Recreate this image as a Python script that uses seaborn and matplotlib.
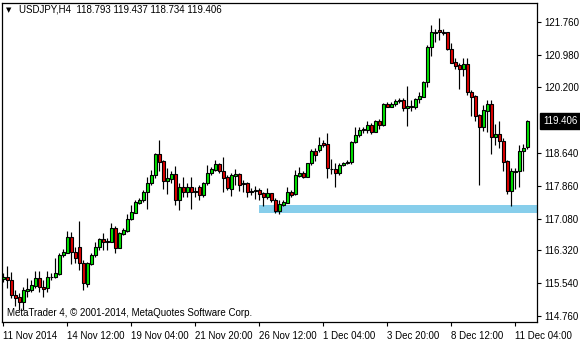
import numpy as np
import pandas as pd
import matplotlib
matplotlib.use("Agg")
import matplotlib.pyplot as plt
import matplotlib.transforms as mtransforms
import seaborn as sns

# ---- data (USDJPY H4 candles) ----
opens = [115.63, 115.69, 115.61, 115.26, 115.21, 115.10, 115.36, 115.39, 115.48, 115.67,
         115.46, 115.42, 115.69, 115.70, 115.76, 116.20, 116.27, 116.63, 116.28, 116.41,
         116.03, 115.52, 116.00, 116.20, 116.41, 116.60, 116.54, 116.53, 116.86, 116.39,
         116.71, 116.79, 117.06, 117.22, 117.46, 117.51, 117.70, 117.92, 118.11, 118.62,
         118.45, 117.98, 118.03, 118.14, 117.51, 117.82, 117.70, 117.82, 117.72, 117.84,
         117.64, 117.92, 118.16, 118.24, 118.38, 118.22, 118.08, 117.79, 118.09, 118.14,
         117.90, 117.93, 117.70, 117.73, 117.76, 117.68, 117.60, 117.68, 117.52, 117.27,
         117.41, 117.46, 117.70, 117.66, 118.10, 118.16, 118.08, 118.40, 118.69, 118.70,
         118.87, 118.86, 118.25, 118.26, 118.17, 118.36, 118.40, 118.42, 118.89, 119.07,
         119.19, 119.19, 119.31, 119.15, 119.40, 119.31, 119.80, 119.74, 119.80, 119.88,
         119.90, 119.70, 119.74, 119.74, 119.92, 119.98, 120.32, 121.17, 121.50, 121.57,
         121.51, 121.51, 121.12, 120.80, 120.73, 120.64, 120.76, 120.08, 119.99, 119.54,
         119.27, 119.65, 119.80, 119.03, 119.09, 118.93, 118.44, 117.74, 118.19, 118.20,
         118.68, 118.793]
highs = [115.78, 115.95, 115.81, 115.38, 115.30, 115.46, 115.66, 115.62, 115.82, 115.82,
         115.62, 115.82, 115.79, 116.15, 116.25, 116.36, 116.79, 116.77, 116.41, 117.01,
         116.09, 116.05, 116.25, 116.51, 116.61, 116.73, 116.62, 116.97, 116.90, 116.77,
         116.85, 117.18, 117.40, 117.52, 117.58, 117.76, 118.08, 118.24, 118.65, 118.95,
         118.47, 118.28, 118.20, 118.32, 117.92, 118.08, 117.92, 118.08, 117.84, 117.88,
         117.94, 118.36, 118.30, 118.47, 118.40, 118.55, 118.12, 118.16, 118.25, 118.16,
         118.00, 117.96, 117.80, 117.86, 117.80, 117.72, 117.81, 117.69, 117.56, 117.52,
         117.52, 117.84, 117.76, 118.24, 118.30, 118.22, 118.41, 118.73, 118.75, 119.01,
         118.95, 119.11, 118.49, 118.40, 118.40, 118.43, 118.47, 118.93, 119.27, 119.27,
         119.27, 119.40, 119.35, 119.43, 119.44, 119.82, 119.86, 119.86, 119.93, 119.94,
         119.94, 120.24, 119.90, 119.94, 120.08, 120.36, 121.21, 121.69, 121.59, 121.85,
         121.59, 121.53, 121.25, 120.90, 120.78, 120.90, 120.91, 120.14, 120.02, 119.57,
         119.78, 119.90, 119.90, 119.33, 119.39, 118.99, 118.47, 118.28, 118.28, 118.83,
         118.85, 119.437]
lows = [115.58, 115.42, 115.18, 115.00, 114.90, 114.90, 115.22, 115.34, 115.42, 115.32,
        115.22, 115.32, 115.62, 115.66, 115.74, 116.17, 116.25, 115.99, 116.01, 115.86,
        115.38, 115.46, 115.97, 116.16, 116.33, 116.33, 116.33, 116.51, 116.27, 116.37,
        116.69, 116.77, 117.05, 117.20, 117.42, 117.48, 117.31, 117.88, 118.04, 118.22,
        117.78, 117.66, 117.93, 117.40, 117.28, 117.60, 117.60, 117.31, 117.60, 117.52,
        117.60, 117.88, 118.12, 118.22, 118.16, 117.72, 117.76, 117.62, 117.88, 117.74,
        117.72, 117.60, 117.64, 117.54, 117.52, 117.38, 117.54, 117.48, 117.20, 117.18,
        117.38, 117.45, 117.60, 117.64, 118.06, 118.05, 118.06, 118.36, 118.46, 118.67,
        118.79, 118.04, 118.14, 117.82, 118.12, 118.34, 118.38, 118.38, 118.87, 119.03,
        119.11, 119.11, 119.09, 119.13, 119.20, 119.28, 119.73, 119.73, 119.77, 119.82,
        119.63, 119.28, 119.63, 119.68, 119.84, 119.97, 120.20, 120.96, 121.29, 121.32,
        121.45, 121.10, 120.78, 120.64, 120.17, 120.48, 120.02, 119.51, 119.39, 117.88,
        119.17, 119.15, 118.62, 118.82, 118.75, 118.22, 117.66, 117.38, 117.78, 117.84,
        118.20, 118.734]
closes = [115.69, 115.61, 115.25, 115.20, 115.10, 115.37, 115.40, 115.49, 115.67, 115.44,
          115.41, 115.69, 115.70, 115.78, 116.20, 116.28, 116.63, 116.28, 116.13, 116.03,
          115.54, 116.01, 116.20, 116.41, 116.59, 116.51, 116.52, 116.86, 116.39, 116.74,
          116.81, 117.06, 117.24, 117.47, 117.52, 117.72, 117.93, 118.12, 118.62, 118.43,
          117.98, 118.04, 118.14, 117.51, 117.82, 117.70, 117.82, 117.72, 117.74, 117.64,
          117.92, 118.16, 118.25, 118.38, 118.20, 118.05, 117.80, 118.12, 118.14, 117.88,
          117.93, 117.70, 117.74, 117.76, 117.66, 117.60, 117.69, 117.51, 117.27, 117.43,
          117.47, 117.70, 117.63, 118.12, 118.16, 118.08, 118.40, 118.69, 118.60, 118.82,
          118.83, 118.28, 118.27, 118.17, 118.36, 118.40, 118.43, 118.90, 119.07, 119.19,
          119.20, 119.31, 119.15, 119.40, 119.31, 119.80, 119.74, 119.80, 119.88, 119.90,
          119.70, 119.77, 119.76, 119.92, 120.00, 120.34, 121.16, 121.51, 121.52, 121.51,
          121.50, 121.12, 120.79, 120.72, 120.64, 120.76, 120.08, 119.98, 119.52, 119.27,
          119.67, 119.80, 119.03, 119.09, 118.93, 118.43, 117.74, 118.20, 118.22, 118.69,
          118.77, 119.406]

x_tick_bars = [0, 16, 32, 48, 64, 80, 96, 112, 128]
x_tick_labels = ["11 Nov 2014", "14 Nov 12:00", "19 Nov 04:00", "21 Nov 20:00",
                 "26 Nov 12:00", "1 Dec 04:00", "3 Dec 20:00", "8 Dec 12:00", "11 Dec 04:00"]
y_ticks = [114.76, 115.54, 116.32, 117.08, 117.86, 118.64, 120.20, 120.98, 121.76]
y_tick_labels = ["114.760", "115.540", "116.320", "117.080", "117.860", "118.640",
                 "120.200", "120.980", "121.760"]
band_start_bar = 63.9
band_low = 117.22
band_high = 117.40
last_price = 119.406
last_price_label = "119.406"
title_text = "USDJPY,H4  118.793 119.437 118.734 119.406"
footer_text = "MetaTrader 4, \u00a9 2001-2014, MetaQuotes Software Corp."

# ---- style ----
sns.set_theme(style="white")
plt.rcParams['font.family'] = ['Liberation Sans', 'DejaVu Sans']
plt.rcParams['text.color'] = 'black'

W, H = 580, 340
fig = plt.figure(figsize=(W / 100, H / 100), dpi=100)
fig.patch.set_facecolor('white')
ax = fig.add_axes([2 / W, 18 / H, 535 / W, 319 / H])
ax.set_facecolor('white')

df = pd.DataFrame({"bar": np.arange(len(opens)), "open": opens, "high": highs,
                   "low": lows, "close": closes})
df["bull"] = df["close"] >= df["open"]
df["body_low"] = df[["open", "close"]].min(axis=1)
df["body_h"] = (df["close"] - df["open"]).abs()
bull_color = "#00E600"
bear_color = "#E00000"
df["color"] = np.where(df["bull"], bull_color, bear_color)

# support band
xmax = 133.4
ax.fill_between([band_start_bar, xmax + 1], band_low, band_high,
                color="#87CEEB", linewidth=0, zorder=1)

# wicks and bodies
ax.vlines(df["bar"], df["low"], df["high"], color="black", linewidth=0.85, zorder=2)
ax.bar(df["bar"], df["body_h"], bottom=df["body_low"], width=0.6,
       color=df["color"], edgecolor="black", linewidth=0.8, zorder=3)

ax.set_xlim(-0.325, xmax)
ax.set_ylim(114.617, 122.21)

for s in ax.spines.values():
    s.set_color("black")
    s.set_linewidth(0.9)
    s.set_visible(True)

ax.yaxis.tick_right()
ax.set_yticks(y_ticks)
ax.set_yticklabels(y_tick_labels)
ax.set_xticks(x_tick_bars)
ax.set_xticklabels(x_tick_labels)
ax.tick_params(axis='y', which='both', direction='out', length=3, width=0.8,
               pad=2.2, labelsize=7, colors='black', right=True, left=False)
ax.tick_params(axis='x', which='both', direction='out', length=3, width=0.8,
               pad=3.5, labelsize=7, colors='black', bottom=True)
for lbl in ax.get_xticklabels():
    lbl.set_horizontalalignment('left')
    lbl.set_x(0)

# current price label
trans = mtransforms.blended_transform_factory(ax.transAxes, ax.transData)
ax.annotate(last_price_label, xy=(1.0, last_price), xycoords=trans,
            xytext=(4.2, 0), textcoords='offset points', ha='left', va='center',
            fontsize=7, color='white', annotation_clip=False, zorder=10,
            bbox=dict(boxstyle='square,pad=0.3', fc='black', ec='black'))

# title and footer
fig.text(6 / W, 1 - 10 / H, "\u25bc", fontsize=5, ha='left', va='center',
         color='black', family=['DejaVu Sans'])
fig.text(19 / W, 1 - 10 / H, title_text, fontsize=7, ha='left', va='center', color='black')
fig.text(7 / W, 1 - 313 / H, footer_text, fontsize=7, ha='left', va='center', color='black')

fig.savefig("out.png", dpi=100, facecolor='white')
